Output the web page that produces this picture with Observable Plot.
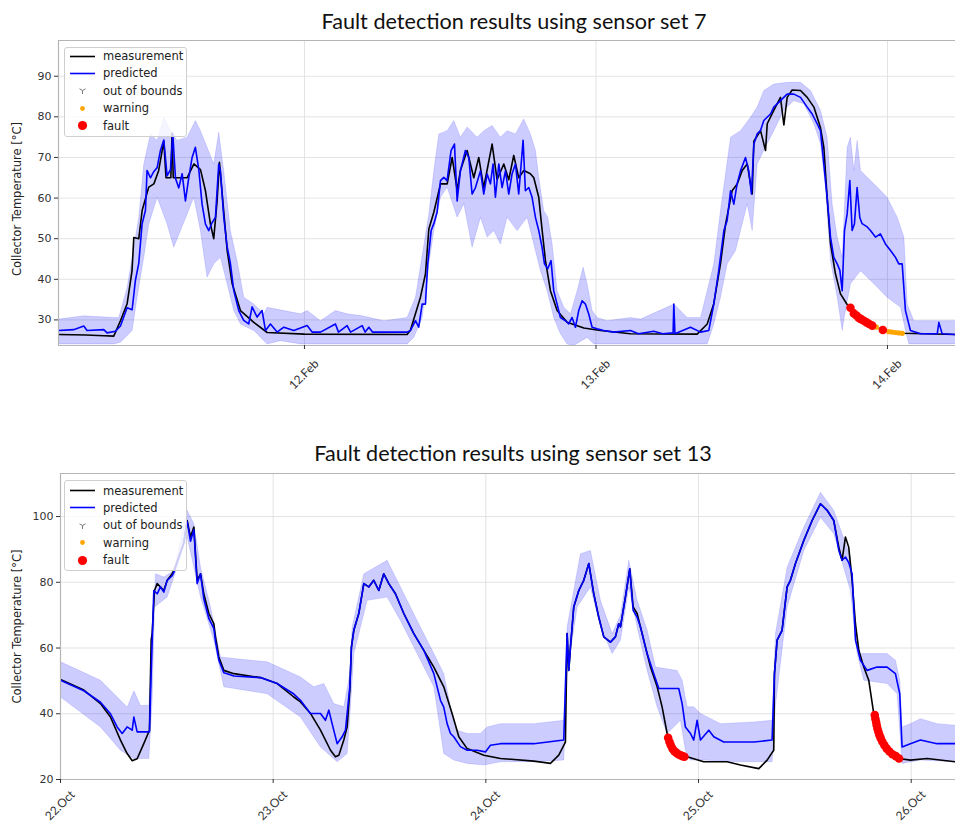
<!DOCTYPE html>
<html><head><meta charset="utf-8">
<script src="https://cdn.jsdelivr.net/npm/d3@7"></script>
<script src="https://cdn.jsdelivr.net/npm/@observablehq/plot@0.6"></script>
<style>
body{margin:0;background:#fff;}
#root{position:relative;width:955px;height:823px;overflow:hidden;font-family:"DejaVu Sans",sans-serif;}
#root svg.chart{position:absolute;left:0;}
.title{position:absolute;white-space:nowrap;transform:translateX(-50%);font-family:Lato,"Open Sans",sans-serif;font-size:21.6px;color:#111;line-height:1;}
.legend{position:absolute;background:rgba(255,255,255,0.8);border:1px solid #cfcfcf;border-radius:3px;font-size:11.5px;color:#222;box-sizing:border-box;}
.legend .row{position:absolute;left:0;height:17px;display:flex;align-items:center;}
.legend .row svg{display:block;margin-left:4px;}
</style></head>
<body><div id="root"></div>
<script>
// ---------- data: top chart (hours since 11 Feb 00:00) ----------
const topTitle = "Fault detection results using sensor set 7";
const topTickHours = [24, 48, 72];
const topTickLabels = ["12.Feb", "13.Feb", "14.Feb"];
const topYTicks = [30, 40, 50, 60, 70, 80, 90];

const topMeasurement = [[3.75,26.4],[6.0,26.3],[7.5,26.1],[8.3,26.0],[8.85,29.8],[9.4,34.0],[9.8,42.0],[9.95,50.3],[10.36,50.0],[10.64,57.0],[11.18,62.7],[11.6,63.5],[12.0,66.8],[12.42,74.0],[12.6,65.0],[13.0,65.0],[13.1,76.0],[13.2,65.0],[13.5,65.0],[14.34,65.0],[14.9,68.4],[15.44,67.0],[15.85,61.8],[16.26,53.6],[16.53,50.0],[16.8,59.0],[17.0,68.8],[17.3,58.5],[17.64,47.0],[18.05,38.9],[18.73,32.3],[19.83,29.4],[20.93,26.9],[24.0,26.5],
[32.45,26.4],[32.73,27.5],[33.55,35.6],[33.96,41.3],[34.24,52.4],[34.65,56.5],[35.2,63.5],[35.75,63.5],[36.16,70.0],[36.57,62.0],[36.84,66.8],[37.39,71.7],[37.94,65.0],[38.35,70.0],[38.76,62.6],[39.45,73.3],[39.86,64.5],[40.41,68.4],[40.82,64.5],[41.23,70.5],[41.64,65.0],[42.06,66.8],[42.6,66.0],[42.88,65.0],[43.29,60.2],[43.57,52.0],[43.84,44.6],[44.25,37.2],[44.8,32.3],[45.63,29.4],[47.0,28.0],[48.37,27.4],[50.84,26.6],
[56.33,26.5],[57.16,29.0],[57.7,34.0],[58.25,43.8],[58.67,53.6],[59.21,61.8],[59.63,63.5],[60.04,66.8],[60.45,68.4],[60.86,61.0],[61.0,74.0],[61.55,76.6],[61.96,71.7],[62.1,78.3],[62.64,81.6],[63.19,84.8],[63.47,78.0],[63.74,84.8],[64.15,86.6],[64.84,86.5],[65.39,84.8],[65.94,82.4],[66.48,77.4],[66.76,72.5],[67.03,60.2],[67.31,48.7],[67.72,41.3],[68.13,36.4],[68.68,33.8],[69.23,31.6],[69.83,30.2],[70.49,29.0],[71.09,28.2],[71.7,27.5],[72.66,26.9],[73.35,26.7],[77.6,26.4]];

const topPredicted = [[3.77,27.4],[5.0,27.6],[5.83,28.5],[6.1,27.4],[7.48,27.6],[7.75,26.8],[8.44,27.2],[8.85,28.5],[9.4,33.0],[9.81,32.5],[10.08,39.7],[10.36,44.0],[10.63,53.6],[10.91,57.0],[11.04,66.8],[11.32,65.0],[11.59,66.5],[11.87,67.5],[12.14,71.7],[12.42,74.3],[12.69,65.5],[12.97,67.0],[13.16,75.8],[13.38,64.9],[13.65,62.5],[13.93,66.0],[14.2,59.3],[14.47,64.9],[14.75,70.0],[15.02,72.5],[15.3,67.0],[15.57,58.5],[15.85,53.6],[16.12,52.0],[16.4,54.0],[16.67,55.2],[16.94,68.4],[17.08,66.8],[17.36,55.2],[17.63,48.1],[17.9,44.0],[18.18,37.2],[18.59,32.3],[19.0,29.9],[19.41,29.0],[19.69,33.2],[20.1,30.7],[20.51,32.3],[20.79,27.4],[21.2,29.0],[21.75,27.0],[22.3,28.2],[23.12,27.4],[24.22,28.6],[24.63,27.0],
[25.32,27.0],[26.55,29.0],[26.8,27.0],[27.51,28.6],[27.8,27.0],[28.75,28.6],[29.0,27.0],[29.3,28.2],[29.6,27.0],[32.45,27.0],[32.73,27.4],[33.14,29.8],[33.41,28.2],[33.69,33.9],[33.96,33.9],[34.15,43.8],[34.43,52.0],[34.65,53.7],[34.92,56.5],[35.2,64.3],[35.47,65.1],[35.74,64.3],[36.07,71.7],[36.35,73.3],[36.57,59.3],[36.84,66.7],[37.25,71.7],[37.53,70.0],[37.8,61.0],[38.08,62.6],[38.49,66.7],[38.76,61.0],[39.04,65.9],[39.31,63.5],[39.53,68.4],[39.72,60.2],[40.0,68.4],[40.27,62.6],[40.55,66.7],[40.82,61.0],[41.09,65.9],[41.37,68.4],[41.64,61.0],[42.0,74.2],[42.19,61.8],[42.47,62.6],[42.74,60.2],[43.02,55.2],[43.29,52.0],[43.56,47.9],[43.76,43.8],[44.03,42.6],[44.3,44.6],[44.52,37.2],[44.8,33.9],[45.07,30.6],[45.49,29.8],[45.76,29.0],[46.03,30.6],[46.31,28.2],[46.58,32.3],[46.86,34.7],[47.13,33.9],[47.41,31.4],[47.68,28.2],[48.09,27.8],[48.64,27.4],[49.46,27.0],[50.84,27.4],
[51.5,26.6],[52.76,27.2],[53.5,26.6],[54.35,26.8],[54.41,33.9],[54.5,26.6],[55.78,28.2],[56.61,27.0],[57.29,27.4],[57.7,33.9],[58.11,42.2],[58.53,52.0],[58.8,54.5],[59.08,61.8],[59.35,58.5],[59.62,63.5],[59.9,66.7],[60.31,70.0],[60.58,66.7],[60.8,61.0],[61.0,73.3],[61.27,75.8],[61.54,76.6],[61.82,79.1],[62.09,79.9],[62.37,80.7],[62.64,82.4],[62.92,83.2],[63.19,84.0],[63.46,84.8],[63.74,85.6],[64.29,85.6],[64.84,84.8],[65.39,82.4],[65.8,80.7],[66.21,78.3],[66.48,76.6],[66.76,68.4],[67.03,60.2],[67.31,50.4],[67.58,45.4],[67.86,43.8],[68.08,42.2],[68.27,37.2],[68.46,52.0],[68.68,56.1],[68.9,64.3],[69.09,52.0],[69.28,53.7],[69.5,62.6],[69.72,55.2],[69.91,53.7],[70.33,52.9],[70.6,52.0],[71.01,50.4],[71.42,51.2],[71.83,48.7],[72.25,47.1],[72.66,45.4],[72.93,43.8],[73.21,43.8],[73.48,32.3],[73.89,27.4],[74.72,26.6],[76.1,26.6],[76.23,29.4],[76.5,26.6],[77.6,26.4]];

const topUpper = [[3.77,30.2],[5.83,31.0],[8.3,30.6],[8.71,30.6],[9.4,38.0],[9.95,47.9],[10.36,55.3],[10.77,68.4],[11.32,75.8],[11.87,74.2],[12.42,79.9],[12.97,76.6],[13.51,74.2],[14.34,75.0],[15.02,79.1],[15.43,76.6],[15.98,72.5],[16.53,68.4],[16.94,76.2],[17.35,66.8],[17.9,52.0],[18.45,44.6],[19.0,35.6],[19.83,33.9],[20.65,31.5],[20.92,33.1],[22.3,32.3],[23.67,31.5],
[24.22,32.3],[25.32,29.8],[26.55,32.3],[27.51,31.5],[28.75,31.0],[30.53,29.8],[32.45,30.6],[33.14,35.6],[34.24,56.1],[34.65,66.8],[35.06,75.8],[35.74,76.6],[36.29,79.1],[36.84,75.0],[37.39,77.5],[38.21,75.0],[38.76,76.6],[39.45,77.9],[40.13,75.0],[40.68,76.6],[41.37,75.8],[42.05,79.5],[42.6,75.8],[43.02,71.7],[43.29,65.1],[43.7,56.9],[44.03,55.3],[44.39,48.7],[44.8,37.2],[45.35,33.1],[45.9,31.5],[46.45,37.2],[46.94,43.0],[47.27,38.9],[47.68,32.3],[48.09,30.6],[48.91,29.8],[50.84,30.6],
[51.67,30.2],[54.41,33.9],[55.51,30.6],[56.61,30.6],[57.7,43.8],[58.25,56.9],[59.08,75.0],[59.9,76.6],[60.72,79.9],[61.27,82.4],[61.82,86.5],[62.64,88.1],[63.74,88.5],[64.84,88.5],[65.66,86.5],[66.48,81.6],[67.03,75.0],[67.44,58.6],[67.86,50.4],[68.27,45.4],[68.68,72.5],[68.95,75.0],[69.23,66.8],[69.5,74.2],[69.78,66.8],[70.33,65.1],[71.15,62.7],[71.97,60.2],[72.52,56.9],[72.8,55.3],[73.35,50.4],[73.62,33.9],[74.17,29.8],[77.6,29.8]];

const topLower = [[3.77,24.1],[8.3,24.1],[8.85,24.5],[9.81,27.4],[10.22,35.6],[10.77,45.4],[11.18,53.6],[11.87,60.2],[12.69,53.6],[13.24,47.9],[13.79,52.0],[14.34,56.1],[14.89,60.2],[15.43,52.0],[15.98,40.5],[16.53,43.8],[17.08,45.4],[17.63,38.9],[18.18,32.3],[18.73,29.0],[19.83,27.4],[20.92,24.1],[22.02,24.9],[23.67,24.1],
[32.45,24.1],[33.0,25.7],[33.69,30.6],[34.24,43.8],[34.65,52.0],[35.2,60.2],[35.74,62.7],[36.57,55.3],[37.12,58.6],[37.8,47.9],[38.49,55.3],[39.04,50.4],[39.59,52.0],[40.13,48.7],[40.68,55.3],[41.51,52.0],[42.33,55.3],[42.88,48.7],[43.43,42.1],[43.98,37.2],[44.52,30.6],[45.07,26.6],[45.62,24.1],[46.17,23.7],[47.27,25.7],[47.82,24.1],[50.84,24.1],
[57.16,24.1],[57.7,29.0],[58.25,35.6],[58.8,43.8],[59.49,47.1],[59.9,52.0],[60.45,58.6],[60.86,52.0],[61.27,68.4],[62.09,73.4],[62.64,76.6],[63.46,81.6],[64.29,84.0],[65.11,83.2],[65.94,78.3],[66.48,73.4],[66.89,62.7],[67.31,44.6],[67.86,35.6],[68.27,27.4],[68.46,31.0],[68.95,38.9],[69.78,42.1],[70.88,38.9],[71.97,35.6],[73.08,33.1],[73.48,27.4],[73.76,24.1],[77.6,24.1]];

const topFaults = [[68.95,33.0],[69.23,31.6],[69.45,31.1],[69.64,30.5],[69.83,30.2],[70.05,29.8],[70.27,29.4],[70.49,29.0],[70.74,28.6],[71.62,27.5]];
const topWarnings = [[71.09,28.2],[72.11,27.1],[72.38,27.0],[72.66,26.9],[72.93,26.8],[73.21,26.7]];

// ---------- data: bottom chart (hours since 22 Oct 00:00) ----------
const bottomTitle = "Fault detection results using sensor set 13";
const bottomTickHours = [0, 24, 48, 72, 96];
const bottomTickLabels = ["22.Oct", "23.Oct", "24.Oct", "25.Oct", "26.Oct"];
const bottomYTicks = [20, 40, 60, 80, 100];

const bottomMeasurement = [[0,50.4],[2.63,47.2],[4.51,43.1],[5.64,39.0],[6.77,32.0],[7.52,27.9],[8.09,25.7],[8.65,26.3],[9.4,30.9],[10.04,35.0],[10.23,62.4],[10.34,64.4],[10.61,77.5],[10.91,79.6],[11.66,77.5],[12.04,80.6],[12.6,82.6],[12.79,83.6],[13.92,92.0],[14.29,98.8],[14.67,93.8],[15.05,96.8],[15.42,80.6],[15.8,82.6],[16.17,76.5],[16.74,70.5],[17.3,67.4],[17.49,63.4],[17.87,57.3],[18.43,53.2],[19.56,52.2],[22.57,51.0],[24.45,49.2],[26.33,45.1],[27.08,43.6],[28.21,40.1],[29.34,35.0],[30.47,28.9],[31.03,26.9],[31.41,27.4],[31.97,32.0],[32.35,36.0],[32.65,47.2],[32.83,60.3],[33.1,65.4],[33.66,70.5],[34.23,79.6],[34.79,78.6],[35.35,80.6],[35.92,77.5],[36.48,82.6],[37.05,79.6],[37.8,76.5],[38.74,70.5],[39.87,64.4],[41.0,59.3],[42.13,54.2],[43.25,48.2],[44.19,40.1],[44.95,33.0],[45.89,29.4],[47.77,27.4],[49.65,26.4],[53.41,25.6],[55.29,24.9],[56.23,27.4],[56.98,31.4],[57.17,64.4],[57.36,53.2],[57.55,60.3],[57.92,72.5],[58.49,77.5],[59.05,80.6],[59.62,85.7],[60.18,76.5],[60.74,69.4],[61.31,63.4],[62.06,61.8],[62.62,63.4],[63.0,67.4],[63.19,66.4],[63.75,75.5],[64.24,84.1],[64.62,72.5],[65.07,70.5],[65.45,66.4],[66.01,60.3],[66.58,54.2],[67.33,48.2],[67.89,42.1],[68.46,34.0],[68.83,30.5],[69.58,28.5],[70.71,26.9],[72.59,25.4],[75.23,25.4],[76.73,24.4],[78.8,23.3],[79.74,25.9],[80.49,28.9],[80.57,52.2],[80.87,62.4],[81.43,65.4],[82.0,78.6],[82.37,80.6],[82.94,85.7],[83.88,92.7],[84.82,98.8],[85.76,103.9],[86.51,101.9],[87.26,98.8],[87.83,90.7],[88.2,86.7],[88.58,93.8],[88.95,90.7],[89.33,80.6],[89.71,67.4],[90.08,59.3],[90.65,54.2],[91.21,50.2],[91.77,40.1],[92.34,34.0],[92.9,30.0],[93.66,27.9],[94.6,26.4],[95.91,25.9],[97.79,26.4],[101.0,25.4]];

const bottomPredicted = [[0,50.2],[2.63,47.0],[4.51,43.5],[5.64,40.0],[6.39,36.0],[6.96,34.0],[7.52,36.0],[8.09,35.0],[8.28,39.0],[8.65,34.5],[9.4,34.5],[10.04,34.5],[10.23,52.0],[10.53,77.5],[10.91,76.5],[11.28,78.6],[11.66,77.0],[12.04,80.6],[12.6,82.0],[12.79,83.0],[13.92,92.0],[14.29,98.5],[14.67,92.5],[15.05,96.0],[15.42,79.6],[15.8,82.6],[16.17,75.0],[16.74,69.0],[17.3,66.0],[17.49,62.0],[17.87,56.3],[18.43,52.5],[18.81,52.2],[19.56,51.5],[22.57,51.0],[24.45,49.2],[26.33,46.0],[27.08,44.1],[28.21,40.1],[29.34,40.1],[29.9,38.0],[30.28,41.1],[30.65,37.0],[31.22,30.9],[31.78,33.0],[32.16,35.0],[32.65,48.2],[32.83,60.3],[33.1,65.4],[33.66,70.5],[34.23,79.6],[34.79,78.6],[35.35,80.6],[35.92,77.5],[36.48,82.6],[37.05,79.6],[37.8,76.5],[38.74,70.5],[39.87,64.4],[41.0,59.3],[42.13,52.2],[42.88,44.1],[43.25,42.0],[43.63,37.0],[44.01,34.0],[44.38,33.0],[45.13,30.0],[45.89,28.9],[47.01,28.9],[47.95,28.4],[48.52,30.4],[49.65,30.9],[53.41,30.9],[56.79,32.0],[57.17,64.4],[57.36,53.2],[57.55,60.3],[57.92,72.5],[58.49,77.5],[59.05,80.6],[59.62,85.7],[60.18,76.5],[60.74,69.4],[61.31,63.4],[62.06,61.8],[62.62,63.4],[63.0,67.4],[63.19,66.4],[63.75,75.5],[64.24,84.1],[64.62,71.5],[65.07,69.4],[65.45,66.4],[66.2,58.3],[66.95,52.2],[67.52,47.7],[68.83,47.7],[69.77,47.7],[70.15,43.1],[70.52,36.0],[71.09,34.0],[71.46,32.0],[71.84,38.0],[72.22,32.0],[73.16,35.0],[73.72,33.0],[74.85,31.4],[78.24,31.4],[80.3,32.0],[80.57,52.2],[80.87,62.4],[81.43,65.4],[82.0,78.6],[82.37,80.6],[82.94,85.7],[83.88,92.7],[84.82,98.8],[85.76,103.9],[86.51,101.9],[87.26,98.8],[87.83,89.7],[88.2,86.7],[88.58,87.7],[88.95,86.0],[89.33,82.6],[89.71,62.4],[90.27,56.3],[91.02,53.2],[92.15,54.2],[93.28,54.2],[94.22,52.2],[94.71,46.1],[94.97,29.9],[95.91,30.9],[97.04,32.0],[98.92,30.9],[101.0,30.9]];

const bottomUpper = [[0,55.8],[4.51,50.2],[6.77,44.1],[7.52,42.0],[8.28,47.0],[9.03,42.5],[9.97,42.6],[10.34,62.4],[10.72,82.6],[11.66,81.6],[12.79,83.6],[14.29,101.9],[15.05,97.8],[15.8,84.6],[16.93,72.5],[18.05,57.3],[19.56,56.8],[23.32,55.8],[27.08,51.2],[28.58,48.2],[29.71,49.2],[30.84,43.1],[31.97,42.1],[32.65,52.2],[32.91,66.4],[34.23,82.6],[36.86,86.7],[38.36,78.6],[40.24,68.4],[42.13,58.3],[43.25,52.2],[44.01,42.1],[44.76,35.0],[45.89,34.0],[47.39,34.0],[48.14,36.0],[49.65,37.0],[53.41,37.0],[56.79,38.0],[57.17,66.4],[58.67,88.7],[59.8,89.7],[60.93,74.5],[62.25,64.4],[63.19,70.0],[64.13,86.7],[65.07,74.5],[66.2,65.4],[67.14,54.2],[69.58,53.2],[70.15,50.2],[70.71,42.1],[71.46,42.1],[72.22,40.1],[74.47,37.0],[78.24,37.5],[80.3,38.0],[80.68,64.4],[82.0,84.6],[83.88,96.8],[85.76,107.4],[87.26,101.9],[89.14,87.7],[89.71,66.4],[90.27,58.3],[91.77,58.3],[93.28,58.3],[94.22,56.3],[94.71,50.2],[94.97,36.0],[95.91,37.0],[97.04,38.5],[98.92,37.0],[101.0,36.5]];

const bottomLower = [[0,45.1],[4.51,36.0],[6.77,28.9],[8.28,26.4],[9.97,26.4],[10.34,44.1],[10.61,72.5],[12.04,75.5],[14.29,93.8],[15.8,75.5],[17.3,62.4],[18.43,48.2],[23.32,46.1],[27.08,39.0],[29.34,29.9],[31.22,25.4],[32.35,27.9],[32.72,42.1],[33.1,58.3],[34.6,74.5],[36.86,75.5],[38.36,68.4],[40.24,58.3],[42.13,48.2],[43.25,27.9],[44.38,25.9],[45.89,24.9],[47.77,24.4],[49.65,25.4],[53.41,25.4],[56.79,25.9],[57.17,52.2],[58.3,72.5],[59.8,78.6],[60.93,66.4],[62.25,58.3],[63.19,62.4],[64.13,78.6],[65.07,66.4],[66.2,53.2],[67.33,42.1],[68.46,34.0],[69.96,38.0],[70.52,28.9],[71.09,25.9],[72.59,25.9],[76.35,25.4],[80.3,25.4],[80.68,42.6],[82.0,72.5],[83.88,89.7],[85.76,99.8],[87.26,94.8],[89.14,77.5],[89.9,58.3],[90.65,50.2],[93.28,49.2],[94.41,46.1],[94.97,24.9],[97.04,25.9],[101.0,25.4]];

const bottomFaults = [[68.57,32.7],[68.72,31.5],[68.87,30.4],[69.06,29.4],[69.28,28.6],[69.51,28.1],[69.73,27.7],[69.96,27.4],[70.19,27.1],[70.41,26.9],
[91.89,39.6],[91.96,38.5],[92.04,37.5],[92.11,36.5],[92.19,35.5],[92.3,34.5],[92.42,33.5],[92.57,32.5],[92.75,31.5],[92.98,30.4],[93.24,29.4],[93.54,28.5],[93.88,27.7],[94.26,27.1],[94.63,26.4]];
const bottomWarnings = [];

const yLabel = "Collector Temperature [°C]";
const legendLabels = ["measurement", "predicted", "out of bounds", "warning", "fault"];

// ---------- drawing ----------
const root = document.getElementById("root");
const X = d => d[0], Y = d => d[1];

function makeChart(c) {
  const band = c.upper.concat(c.lower.slice().reverse());
  const [y0, y1] = c.yDomain;
  const svg = Plot.plot({
    width: 955, height: c.height,
    marginLeft: c.marginLeft, marginRight: 0, marginTop: c.marginTop, marginBottom: c.marginBottom,
    x: {domain: c.xDomain},
    y: {domain: c.yDomain},
    style: {fontFamily: "DejaVu Sans", fontSize: "11px", color: "#333", background: "transparent", overflow: "visible"},
    marks: [
      Plot.gridY(c.yTicks, {stroke: "#dcdcdc", strokeOpacity: 1, strokeWidth: 0.8}),
      Plot.gridX(c.xTicks, {stroke: "#dcdcdc", strokeOpacity: 1, strokeWidth: 0.8}),
      Plot.line(band, {x: X, y: Y, fill: "#0000ff", fillOpacity: 0.2, stroke: "#0000ff", strokeOpacity: 0.12, strokeWidth: 1, curve: "linear", clip: true}),
      Plot.line(c.meas, {x: X, y: Y, stroke: "#000", strokeWidth: 1.6, clip: true}),
      Plot.line(c.pred, {x: X, y: Y, stroke: "#0000ff", strokeWidth: 1.6, clip: true}),
      Plot.dot(c.warn, {x: X, y: Y, r: 2.6, fill: "#ffa500"}),
      Plot.dot(c.fault, {x: X, y: Y, r: 4.3, fill: "#ff0000"}),
      Plot.ruleY([y0], {stroke: "#b5b5b5", strokeWidth: 1.2}),
      Plot.ruleY([y1], {stroke: "#b5b5b5", strokeWidth: 1.2}),
      Plot.ruleX([c.xDomain[0]], {stroke: "#b5b5b5", strokeWidth: 1.2}),
      Plot.axisY(c.yTicks, {tickSize: 4, tickPadding: 3, label: null, fontSize: 11}),
      Plot.axisX(c.xTicks, {tickSize: 4, tickFormat: () => "", label: null}),
      Plot.text(c.xTicks, {x: d => d, text: (d, i) => c.xLabels[i], frameAnchor: "bottom", rotate: -45, textAnchor: "end", lineAnchor: "bottom", dx: c.labelOffset[0], dy: c.labelOffset[1], fontFamily: "Lato", fontSize: 12, fill: "#333"}),
      Plot.text([yLabel], {text: d => d, frameAnchor: "left", textAnchor: "middle", lineAnchor: "middle", rotate: -90, dx: c.labelDx, dy: c.labelDy, fontSize: 11.5, fill: "#222"})
    ]
  });
  svg.classList.add("chart");
  svg.style.top = c.top + "px";
  root.appendChild(svg);

  const t = document.createElement("div");
  t.className = "title";
  t.textContent = c.title;
  t.style.left = c.titleX + "px";
  t.style.top = c.titleY + "px";
  root.appendChild(t);

  const box = document.createElement("div");
  box.className = "legend";
  box.style.left = c.legend[0] + "px";
  box.style.top = c.legend[1] + "px";
  box.style.width = "123px";
  box.style.height = c.legend[2] + "px";
  const symbols = [
    '<line x1="1" y1="8.5" x2="26" y2="8.5" stroke="#000" stroke-width="1.6"/>',
    '<line x1="1" y1="8.5" x2="26" y2="8.5" stroke="#0000ff" stroke-width="1.6"/>',
    '<g stroke="#777" stroke-width="1"><line x1="13.5" y1="8.5" x2="13.5" y2="12"/><line x1="13.5" y1="8.5" x2="10.5" y2="6.8"/><line x1="13.5" y1="8.5" x2="16.5" y2="6.8"/></g>',
    '<circle cx="13.5" cy="8.5" r="2.4" fill="#ffa500"/>',
    '<circle cx="13.5" cy="8.5" r="4.6" fill="#ff0000"/>'
  ];
  legendLabels.forEach((lab, i) => {
    const row = document.createElement("div");
    row.className = "row";
    row.style.top = (c.legend[3] + 17.4 * i - 8.5) + "px";
    row.innerHTML = '<svg width="34" height="17">' + symbols[i] + '</svg>';
    const s = document.createElement("span");
    s.textContent = lab;
    row.appendChild(s);
    box.appendChild(row);
  });
  root.appendChild(box);
}

makeChart({
  title: topTitle, titleX: 514, titleY: 11,
  top: 0, height: 395, marginTop: 40, marginBottom: 50, marginLeft: 58, labelDx: -41, labelDy: 6,
  labelOffset: [15, 19],
  xDomain: [3.75, 77.6], yDomain: [23.7, 98.8],
  xTicks: topTickHours, xLabels: topTickLabels, yTicks: topYTicks,
  meas: topMeasurement, pred: topPredicted, upper: topUpper, lower: topLower,
  fault: topFaults, warn: topWarnings,
  legend: [64, 47, 90, 8]
});

makeChart({
  title: bottomTitle, titleX: 513, titleY: 443,
  top: 430, height: 393, marginTop: 43, marginBottom: 44, marginLeft: 60, labelDx: -43, labelDy: 0,
  labelOffset: [15, 16],
  xDomain: [0, 101.0], yDomain: [20, 113.1],
  xTicks: bottomTickHours, xLabels: bottomTickLabels, yTicks: bottomYTicks,
  meas: bottomMeasurement, pred: bottomPredicted, upper: bottomUpper, lower: bottomLower,
  fault: bottomFaults, warn: bottomWarnings,
  legend: [64, 480, 91, 9.5]
});
</script></body></html>
